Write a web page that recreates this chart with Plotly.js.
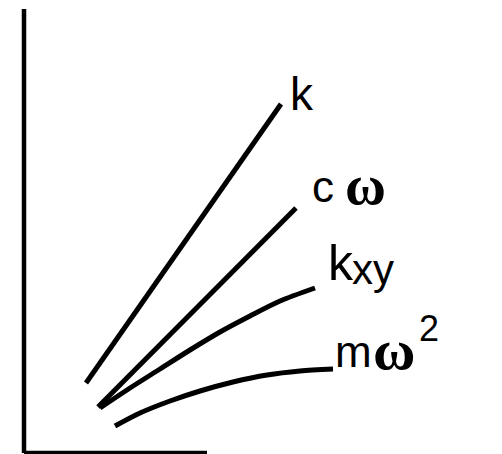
<!DOCTYPE html>
<html>
<head>
<meta charset="utf-8">
<script src="https://cdn.plot.ly/plotly-3.0.1.min.js"></script>
<style>
  html, body { margin: 0; padding: 0; background: #fff; }
  #chart { width: 502px; height: 454px; }
</style>
</head>
<body>
<div id="chart"></div>
<script>
// Dynamic stiffness terms versus frequency (schematic curves)
const kX   = [3.1, 12.85];
const kY   = [3.5, 17.45];

const cwX  = [3.7, 13.6];
const cwY  = [2.3, 12.25];

const kxyX = [3.8, 5.3, 6.8, 8.3, 9.8, 11.3, 12.8, 14.55];
const kxyY = [2.25, 3.25, 4.2, 5.15, 6.05, 6.85, 7.6, 8.25];

const mwX  = [4.55, 5.8, 7.3, 8.8, 10.45, 12.15, 13.8, 15.45];
const mwY  = [1.35, 2.0, 2.6, 3.1, 3.55, 3.9, 4.1, 4.2];

// axis extents
const axisXEnd = 9.15;
const axisYEnd = 22.2;

const lineStyle = { color: '#000', width: 5, shape: 'spline', smoothing: 0.8 };

const traces = [
  { x: kX,   y: kY,   mode: 'lines', line: lineStyle, name: 'k' },
  { x: cwX,  y: cwY,  mode: 'lines', line: lineStyle, name: 'cω' },
  { x: kxyX, y: kxyY, mode: 'lines', line: lineStyle, name: 'kxy' },
  { x: mwX,  y: mwY,  mode: 'lines', line: lineStyle, name: 'mω²' }
];

const sans  = 'Liberation Sans, Arial, sans-serif';
const serif = 'Liberation Serif, Times New Roman, serif';

function label(x, y, text, family, size, weight) {
  return { x: x, y: y, text: text, xanchor: 'left', yanchor: 'middle', showarrow: false,
           font: { family: family, size: size, color: '#000', weight: weight || 'normal' } };
}

const layout = {
  width: 502, height: 454,
  margin: { l: 0, r: 0, t: 0, b: 0 },
  paper_bgcolor: '#fff', plot_bgcolor: '#fff',
  showlegend: false,
  xaxis: { range: [-1.2, 23.9], visible: false, fixedrange: true },
  yaxis: { range: [-0.05, 22.65], visible: false, fixedrange: true },
  shapes: [
    { type: 'line', xref: 'x', yref: 'y', x0: 0, y0: 0, x1: 0, y1: axisYEnd,
      line: { color: '#000', width: 4.5 } },
    { type: 'line', xref: 'x', yref: 'y', x0: 0, y0: 0, x1: axisXEnd, y1: 0,
      line: { color: '#000', width: 4.5 } }
  ],
  annotations: [
    label(13.2, 17.95, 'k', sans, 46),
    label(14.3, 13.32, 'c', sans, 44),
    label(15.95, 13.38, 'ω', serif, 56, 'bold'),
    label(15.1, 9.525, 'k', sans, 50),
    label(16.3, 9.185, 'xy', sans, 42),
    label(15.45, 5.07, 'm', sans, 44),
    label(17.35, 5.17, 'ω', serif, 58, 'bold'),
    label(19.65, 6.25, '2', sans, 36)
  ]
};

Plotly.newPlot('chart', traces, layout, { displayModeBar: false, staticPlot: true });
</script>
</body>
</html>
